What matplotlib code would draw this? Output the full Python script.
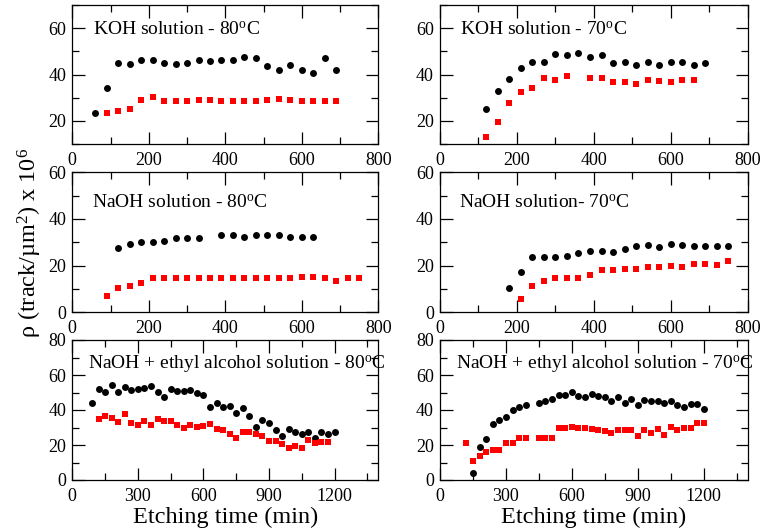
import matplotlib
matplotlib.use("Agg")
import matplotlib.pyplot as plt
from matplotlib.ticker import MultipleLocator

plt.rcParams['font.family'] = ['Liberation Serif', 'DejaVu Serif']
plt.rcParams['mathtext.fontset'] = 'custom'
plt.rcParams['mathtext.rm'] = 'Liberation Serif'
plt.rcParams['mathtext.it'] = 'Liberation Serif:italic'

# ---------------- data ----------------
# KOH 80C
koh80_black_x = list(range(60, 691, 30))
koh80_black_y = [23.4, 34.3, 44.9, 44.7, 46.1, 46.1, 44.9, 44.6, 45.0, 46.4, 45.9,
                 46.4, 46.1, 47.7, 47.0, 43.7, 41.9, 44.1, 42.1, 40.7, 47.0, 42.1]
koh80_red_x = list(range(90, 691, 30))
koh80_red_y = [23.3, 24.4, 25.3, 29.0, 30.1, 28.6, 28.6, 28.6, 29.0, 29.0, 28.6,
               28.5, 28.6, 28.6, 29.0, 29.4, 29.0, 28.6, 28.6, 28.6, 28.6]

# KOH 70C
koh70_black_x = list(range(120, 691, 30))
koh70_black_y = [25.1, 32.9, 38.1, 42.9, 45.3, 45.3, 49.0, 48.6, 49.3, 47.6,
                 48.6, 45.1, 45.4, 44.1, 45.6, 44.3, 45.4, 45.4, 44.3, 45.0]
koh70_red_x = [120, 150, 180, 210, 240, 270, 300, 330, 390, 420, 450, 480, 510,
               540, 570, 600, 630, 660]
koh70_red_y = [13.0, 19.4, 27.7, 32.3, 34.1, 38.7, 37.6, 39.3, 38.7, 38.7, 36.6,
               36.6, 35.9, 37.6, 37.1, 36.6, 37.6, 37.6]

# NaOH 80C
naoh80_black_x = [120, 150, 180, 210, 240, 270, 300, 330, 390, 420, 450, 480,
                  510, 540, 570, 600, 630]
naoh80_black_y = [27.4, 29.3, 30.0, 30.0, 30.7, 31.9, 31.9, 31.9, 33.1, 33.0,
                  32.4, 33.0, 33.0, 33.0, 32.4, 32.4, 32.4]
naoh80_red_x = list(range(90, 751, 30))
naoh80_red_y = [6.9, 10.4, 11.3, 12.6, 14.9, 14.7, 14.7, 14.7, 14.9, 14.9, 14.9,
                14.9, 14.7, 14.7, 14.7, 14.9, 14.7, 15.3, 15.0, 14.7, 13.6, 14.7, 14.7]

# NaOH 70C
naoh70_black_x = list(range(180, 751, 30))
naoh70_black_y = [10.3, 17.1, 23.7, 23.7, 23.7, 24.1, 25.3, 26.4, 26.4, 26.0,
                  27.0, 28.3, 28.7, 28.1, 29.1, 28.7, 28.3, 28.3, 28.3, 28.3]
naoh70_red_x = list(range(210, 751, 30))
naoh70_red_y = [5.9, 11.4, 13.6, 14.9, 14.9, 14.9, 16.0, 18.3, 18.3, 18.6, 18.6,
                19.3, 19.6, 19.7, 19.3, 20.6, 20.6, 20.3, 22.0]

# NaOH + ethyl alcohol 80C
eth80_black_x = list(range(90, 1201, 30))
eth80_black_y = [44.2, 51.8, 50.5, 54.1, 50.5, 53.0, 51.2, 51.8, 52.4, 53.9,
                 50.5, 47.4, 52.2, 50.9, 50.9, 51.4, 49.5, 48.6, 41.9, 44.0,
                 41.9, 42.1, 38.3, 41.0, 36.4, 30.5, 34.3, 32.4, 28.8, 25.1,
                 29.0, 27.4, 26.3, 27.4, 23.8, 27.4, 26.1, 27.2]
eth80_red_x = list(range(120, 1171, 30))
eth80_red_y = [34.7, 36.6, 35.6, 33.3, 37.5, 32.8, 31.6, 33.5, 31.2, 34.7,
               33.5, 33.5, 31.2, 29.5, 31.4, 30.1, 30.9, 31.8, 29.0, 28.6,
               26.3, 24.0, 27.4, 27.4, 26.3, 25.1, 22.1, 22.1, 20.8, 18.5,
               19.6, 18.3, 23.0, 21.3, 21.5, 21.5]

# NaOH + ethyl alcohol 70C
eth70_black_x = [150, 180, 210, 240, 270, 300, 330, 360, 390] + list(range(450, 1201, 30))
eth70_black_y = [3.8, 18.7, 23.2, 32.2, 34.1, 35.8, 40.0, 41.7, 42.9, 44.2,
                 45.3, 46.3, 48.6, 48.4, 50.3, 48.2, 47.2, 49.0, 48.2, 47.4,
                 45.1, 47.6, 44.2, 46.5, 42.9, 45.5, 45.1, 45.0, 44.2, 45.1,
                 43.0, 41.9, 43.2, 43.2, 40.6]
eth70_red_x = [120, 150, 180, 210, 240, 270, 300, 330, 360, 390] + list(range(450, 1201, 30))
eth70_red_y = [21.0, 11.0, 13.5, 15.8, 17.0, 17.0, 21.1, 21.3, 24.2, 24.2,
               24.2, 24.2, 24.2, 29.9, 29.5, 30.5, 29.9, 29.5, 29.0, 28.4,
               28.0, 26.7, 28.4, 28.4, 28.4, 25.3, 28.4, 27.0, 29.0, 25.7,
               30.1, 28.4, 29.9, 29.9, 32.8, 32.8]

titles = ["KOH solution - 80$^{\\rm o}$C", "KOH solution - 70$^{\\rm o}$C",
          "NaOH solution - 80$^{\\rm o}$C", "NaOH solution- 70$^{\\rm o}$C",
          "NaOH + ethyl alcohol solution - 80$^{\\rm o}$C",
          "NaOH + ethyl alcohol solution - 70$^{\\rm o}$C"]
xlabel = "Etching time (min)"
ylabel = "\u03c1 (track/\u00b5m$^2$) x 10$^6$"

# ---------------- figure ----------------
fig = plt.figure(figsize=(7.61, 5.31), dpi=100)

W = 761.0
H = 531.0
cols = [(72.3, 306.0), (440.0, 307.7)]
rows = [(5.0, 144.0), (172.3, 312.3), (340.0, 480.0)]

panels = [
    (koh80_black_x, koh80_black_y, koh80_red_x, koh80_red_y),
    (koh70_black_x, koh70_black_y, koh70_red_x, koh70_red_y),
    (naoh80_black_x, naoh80_black_y, naoh80_red_x, naoh80_red_y),
    (naoh70_black_x, naoh70_black_y, naoh70_red_x, naoh70_red_y),
    (eth80_black_x, eth80_black_y, eth80_red_x, eth80_red_y),
    (eth70_black_x, eth70_black_y, eth70_red_x, eth70_red_y),
]
text_pos = [(0.069, 0.784), (0.065, 0.784), (0.063, 0.747), (0.062, 0.747),
            (0.052, 0.798), (0.052, 0.798)]

axes = []
for i, (bx, by, rx, ry) in enumerate(panels):
    r, c = divmod(i, 2)
    x0, w = cols[c]
    top, bot = rows[r]
    ax = fig.add_axes([x0 / W, (H - bot) / H, w / W, (bot - top) / H])
    axes.append(ax)
    ax.plot(bx, by, 'o', color='black', markersize=5.0, markeredgewidth=0, zorder=3)
    ax.plot(rx, ry, 's', color='#ff0000', markersize=4.6, markeredgewidth=0, zorder=3)
    if r == 0:
        ax.set_xlim(0, 800)
        ax.set_ylim(10, 70)
        ax.xaxis.set_major_locator(MultipleLocator(200))
        ax.xaxis.set_minor_locator(MultipleLocator(100))
    elif r == 1:
        ax.set_xlim(0, 800)
        ax.set_ylim(0, 60)
        ax.xaxis.set_major_locator(MultipleLocator(200))
        ax.xaxis.set_minor_locator(MultipleLocator(100))
    else:
        ax.set_xlim(0, 1400)
        ax.set_ylim(0, 80)
        ax.set_xticks([0, 300, 600, 900, 1200])
        ax.set_xticks([150, 450, 750, 1050, 1350], minor=True)
    ax.yaxis.set_major_locator(MultipleLocator(20))
    ax.yaxis.set_minor_locator(MultipleLocator(10))
    ax.tick_params(which='both', direction='in', top=True, right=True,
                   labelsize=13, width=0.9)
    ax.tick_params(which='major', length=9)
    ax.tick_params(which='minor', length=4.8)
    ax.tick_params(axis='x', pad=5.5)
    ax.tick_params(axis='y', pad=4.5)
    for s in ax.spines.values():
        s.set_linewidth(0.9)
    tx, ty = text_pos[i]
    ax.text(tx, ty, titles[i], transform=ax.transAxes, fontsize=14,
            ha='left', va='baseline', clip_on=False)
    if r == 2:
        ax.text(0.5, -(523 - 480) / 140.0, xlabel, transform=ax.transAxes,
                fontsize=17.5, ha='center', va='baseline')

fig.text(30 / W, (H - 243) / H, ylabel, rotation=90, fontsize=17.5,
         ha='center', va='center')

fig.savefig("out.png", dpi=100)
